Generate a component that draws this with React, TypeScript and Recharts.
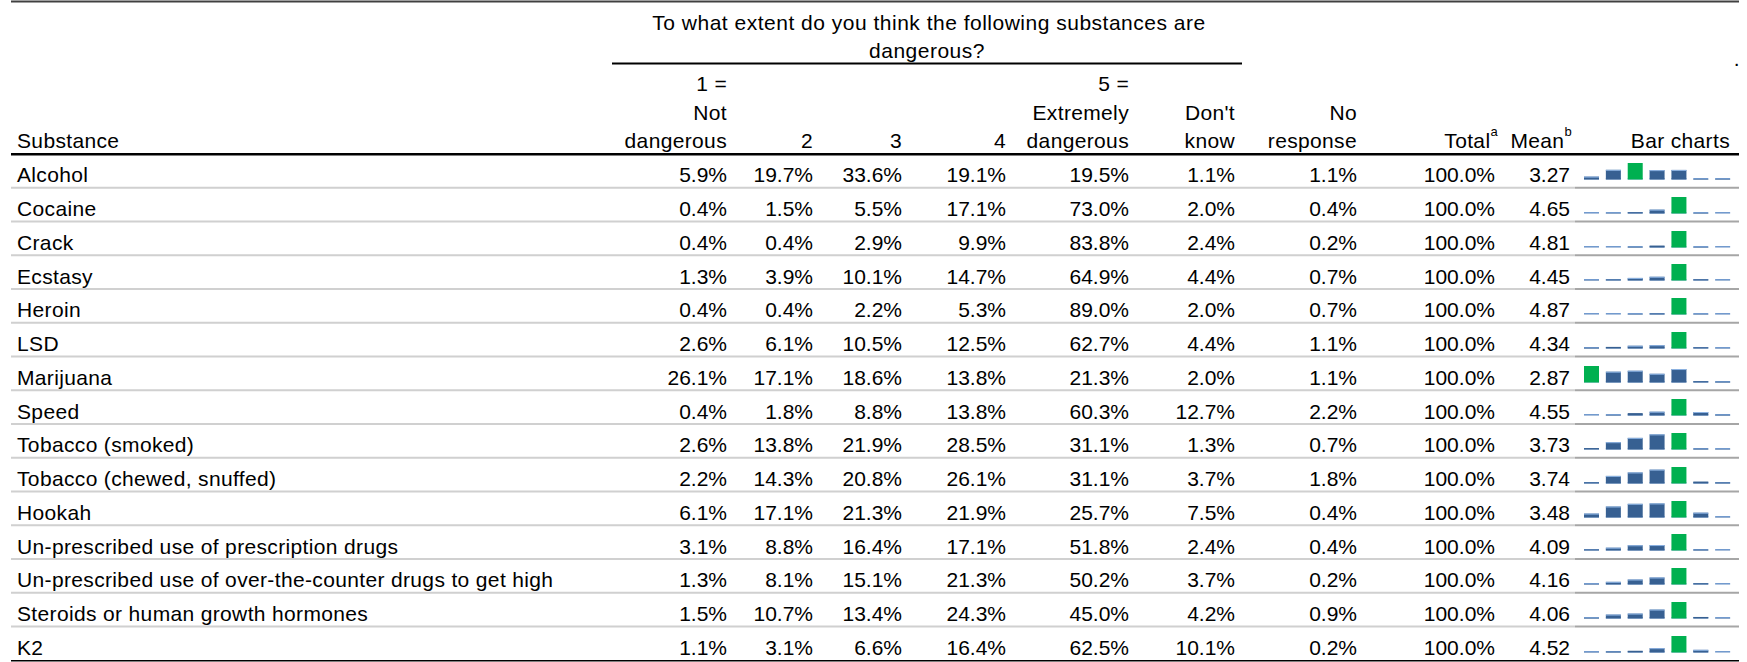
import React from "react";
import { Bar, BarChart, Cell, XAxis, YAxis } from "recharts";

// Survey results: share of respondents per danger rating
const substances = [
  "Alcohol",
  "Cocaine",
  "Crack",
  "Ecstasy",
  "Heroin",
  "LSD",
  "Marijuana",
  "Speed",
  "Tobacco (smoked)",
  "Tobacco (chewed, snuffed)",
  "Hookah",
  "Un-prescribed use of prescription drugs",
  "Un-prescribed use of over-the-counter drugs to get high",
  "Steroids or human growth hormones",
  "K2",
];
const notDangerous = [5.9, 0.4, 0.4, 1.3, 0.4, 2.6, 26.1, 0.4, 2.6, 2.2, 6.1, 3.1, 1.3, 1.5, 1.1];
const level2 = [19.7, 1.5, 0.4, 3.9, 0.4, 6.1, 17.1, 1.8, 13.8, 14.3, 17.1, 8.8, 8.1, 10.7, 3.1];
const level3 = [33.6, 5.5, 2.9, 10.1, 2.2, 10.5, 18.6, 8.8, 21.9, 20.8, 21.3, 16.4, 15.1, 13.4, 6.6];
const level4 = [19.1, 17.1, 9.9, 14.7, 5.3, 12.5, 13.8, 13.8, 28.5, 26.1, 21.9, 17.1, 21.3, 24.3, 16.4];
const extremely = [19.5, 73.0, 83.8, 64.9, 89.0, 62.7, 21.3, 60.3, 31.1, 31.1, 25.7, 51.8, 50.2, 45.0, 62.5];
const dontKnow = [1.1, 2.0, 2.4, 4.4, 2.0, 4.4, 2.0, 12.7, 1.3, 3.7, 7.5, 2.4, 3.7, 4.2, 10.1];
const noResponse = [1.1, 0.4, 0.2, 0.7, 0.7, 1.1, 1.1, 2.2, 0.7, 1.8, 0.4, 0.4, 0.2, 0.9, 0.2];
const totals = [100.0, 100.0, 100.0, 100.0, 100.0, 100.0, 100.0, 100.0, 100.0, 100.0, 100.0, 100.0, 100.0, 100.0, 100.0];
const means = [3.27, 4.65, 4.81, 4.45, 4.87, 4.34, 2.87, 4.55, 3.73, 3.74, 3.48, 4.09, 4.16, 4.06, 4.52];
const responseKeys = ["1", "2", "3", "4", "5", "DK", "NR"];

const valueColumns = [notDangerous, level2, level3, level4, extremely, dontKnow, noResponse];

const W = 1747;
const H = 662;
const FONT = '"Liberation Sans", Arial, sans-serif';
const FS = 21;
const ROW_TOP = 155;
const ROW_H = 33.75;
const LEFT = 11;
const RIGHT = 1739;
const BAR_COL_X = 1575;

const BLUE = "#376092";
const GREEN = "#00B050";
const BASE_LINE = "#729ACE";

// right edges of the percentage columns
const colRight = [727, 813, 902, 1006, 1129, 1235, 1357];
const totalRight = 1495;
const meanRight = 1570;

const pct = (v: number) => `${v.toFixed(1)}%`;

function SparkBar(props: any) {
  const { x, y, width, height, fill } = props;
  const base = y + height;
  return (
    <g>
      <rect x={x} y={base - 1.5} width={width} height={1.5} fill={BASE_LINE} />
      {height > 0 && <rect x={x} y={y} width={width} height={height} fill={fill} />}
      {fill === BLUE && height > 2.5 && (
        <rect x={x} y={y} width={width} height={1} fill="#8EB4E3" />
      )}
    </g>
  );
}

function Sparkline({ row }: { row: number }) {
  const data = responseKeys.map((k, i) => ({ k, v: valueColumns[i][row] }));
  const max = Math.max(...data.map((d) => d.v));
  const maxIdx = data.findIndex((d) => d.v === max);
  return (
    <BarChart
      width={153}
      height={34}
      data={data}
      margin={{ top: 8, right: 0, bottom: 9.5, left: 0 }}
    >
      <XAxis dataKey="k" hide />
      <YAxis hide domain={[0, "dataMax"]} />
      <Bar dataKey="v" barSize={15} isAnimationActive={false} shape={SparkBar}>
        {data.map((d, i) => (
          <Cell key={d.k} fill={i === maxIdx ? GREEN : BLUE} />
        ))}
      </Bar>
    </BarChart>
  );
}

function T({
  x,
  y,
  anchor = "end",
  spacing = 0.35,
  children,
}: {
  x: number;
  y: number;
  anchor?: string;
  spacing?: number;
  children: React.ReactNode;
}) {
  return (
    <text
      x={x}
      y={y}
      textAnchor={anchor as any}
      fontFamily={FONT}
      fontSize={FS}
      letterSpacing={spacing}
      fill="#000"
    >
      {children}
    </text>
  );
}

export default function App() {
  return (
    <div style={{ position: "absolute", left: 0, top: 0, width: W, height: H, background: "#fff" }}>
      <svg width={W} height={H} style={{ position: "absolute", left: 0, top: 0 }}>
        {/* frame lines */}
        <rect x={LEFT} y={0.5} width={RIGHT - LEFT} height={2} fill="#404040" />
        <rect x={612} y={62.5} width={630} height={2} fill="#000" />
        <rect x={LEFT} y={153} width={RIGHT - LEFT} height={2.5} fill="#000" />

        {/* header */}
        <T x={929} y={30} anchor="middle" spacing={0.5}>
          To what extent do you think the following substances are
        </T>
        <T x={927} y={58} anchor="middle" spacing={0.5}>dangerous?</T>
        <T x={1740} y={66}>.</T>

        <T x={17} y={148} anchor="start">Substance</T>
        <T x={colRight[0]} y={91}>1 =</T>
        <T x={colRight[0]} y={120}>Not</T>
        <T x={colRight[0]} y={148}>dangerous</T>
        <T x={colRight[1]} y={148}>2</T>
        <T x={colRight[2]} y={148}>3</T>
        <T x={colRight[3]} y={148}>4</T>
        <T x={colRight[4]} y={91}>5 =</T>
        <T x={colRight[4]} y={120}>Extremely</T>
        <T x={colRight[4]} y={148}>dangerous</T>
        <T x={colRight[5]} y={120}>Don't</T>
        <T x={colRight[5]} y={148}>know</T>
        <T x={colRight[6]} y={120}>No</T>
        <T x={colRight[6]} y={148}>response</T>
        <T x={1498} y={148}>
          Total
          <tspan dy={-12} fontSize={13}>a</tspan>
        </T>
        <T x={1572} y={148}>
          Mean
          <tspan dy={-12} fontSize={13}>b</tspan>
        </T>
        <T x={1730} y={148}>Bar charts</T>

        {/* body rows */}
        {substances.map((name, r) => {
          const top = ROW_TOP + r * ROW_H;
          const base = top + 27.3;
          const lineY = top + ROW_H - 2;
          const last = r === substances.length - 1;
          return (
            <g key={name}>
              {last ? (
                <rect x={LEFT} y={H - 2} width={RIGHT - LEFT} height={1.5} fill="#000" />
              ) : (
                <>
                  <rect x={LEFT} y={lineY} width={BAR_COL_X - LEFT} height={2} fill="#D0D0D0" />
                  <rect x={BAR_COL_X} y={lineY} width={RIGHT - BAR_COL_X} height={2} fill="#A6A6A6" />
                </>
              )}
              <T x={17} y={base} anchor="start">{name}</T>
              {valueColumns.map((col, c) => (
                <T key={c} x={colRight[c]} y={base} spacing={0}>{pct(col[r])}</T>
              ))}
              <T x={totalRight} y={base} spacing={0}>{pct(totals[r])}</T>
              <T x={meanRight} y={base} spacing={0}>{means[r].toFixed(2)}</T>
            </g>
          );
        })}
      </svg>

      {substances.map((name, r) => (
        <div
          key={name}
          style={{ position: "absolute", left: 1581, top: ROW_TOP + r * ROW_H, width: 153, height: 34 }}
        >
          <Sparkline row={r} />
        </div>
      ))}
    </div>
  );
}
